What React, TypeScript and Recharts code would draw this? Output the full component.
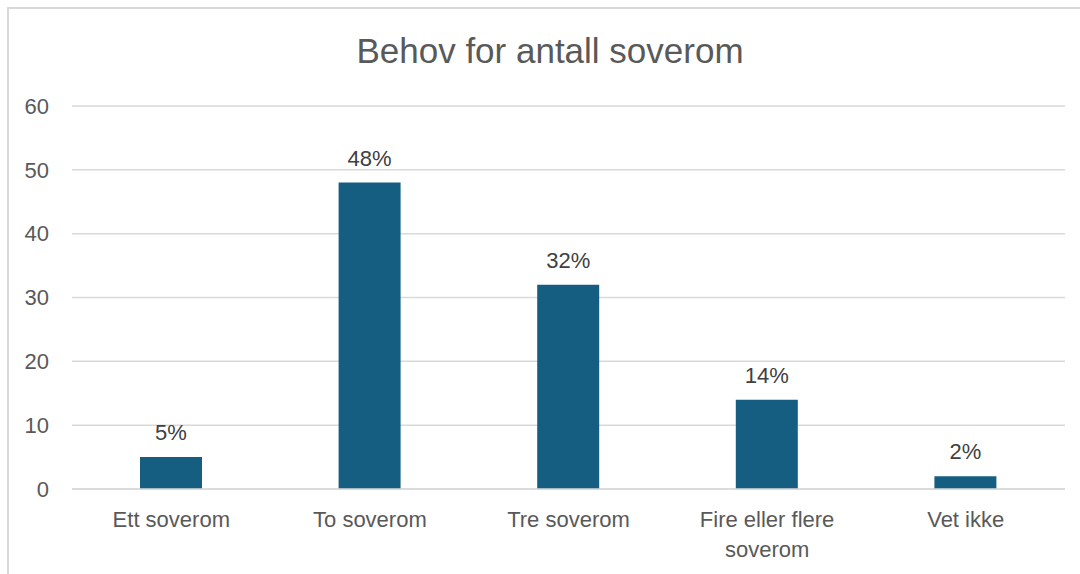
import { BarChart, Bar, XAxis, YAxis, CartesianGrid, LabelList } from "recharts";

const categories = ["Ett soverom", "To soverom", "Tre soverom", "Fire eller flere soverom", "Vet ikke"];
const shares = [5, 48, 32, 14, 2];
const yTicks = [0, 10, 20, 30, 40, 50, 60];

const FONT = '"Liberation Sans", Arial, sans-serif';

const rows = categories.map((name, i) => ({ name, value: shares[i] }));

// enkel ordbryting på antall tegn
function wrapWords(label: string, maxChars = 16) {
  const lines: string[] = [];
  let line = "";
  for (const word of label.split(" ")) {
    const next = line ? `${line} ${word}` : word;
    if (next.length > maxChars && line) {
      lines.push(line);
      line = word;
    } else {
      line = next;
    }
  }
  if (line) lines.push(line);
  return lines;
}

const renderCategoryTick = ({ x, y, payload }: any) => (
  <text
    key={payload.value}
    x={x}
    y={y + 38}
    textAnchor="middle"
    fontSize={22}
    fontFamily={FONT}
    fill="#595959"
  >
    {wrapWords(payload.value).map((ln, i) => (
      <tspan key={i} x={x} dy={i === 0 ? 0 : 30}>
        {ln}
      </tspan>
    ))}
  </text>
);

export default function App() {
  return (
    <div
      style={{
        position: "absolute",
        left: 0,
        top: 0,
        width: 1080,
        height: 574,
        overflow: "hidden",
        background: "#fff",
        fontFamily: FONT,
      }}
    >
      <div
        style={{
          position: "absolute",
          left: 7,
          top: 7,
          width: 1100,
          height: 600,
          border: "2px solid #d9d9d9",
          boxSizing: "border-box",
        }}
      />
      <div
        style={{
          position: "absolute",
          left: 20,
          top: 33,
          width: 1060,
          textAlign: "center",
          fontSize: 35,
          lineHeight: "35px",
          color: "#595959",
        }}
      >
        Behov for antall soverom
      </div>
      <div style={{ position: "absolute", left: 0, top: 0 }}>
        <BarChart
          width={1080}
          height={574}
          data={rows}
          margin={{ top: 106, right: 15, bottom: 0, left: 0 }}
        >
          <CartesianGrid vertical={false} stroke="#d9d9d9" strokeWidth={1.5} />
          <XAxis
            dataKey="name"
            height={85}
            interval={0}
            tickLine={false}
            tickSize={0}
            tickMargin={0}
            axisLine={{ stroke: "#d9d9d9", strokeWidth: 1.5 }}
            tick={renderCategoryTick}
          />
          <YAxis
            width={72}
            domain={[0, 60]}
            ticks={yTicks}
            axisLine={false}
            tickLine={false}
            tickSize={0}
            tickMargin={23}
            tick={{ fontSize: 22, fill: "#595959", fontFamily: FONT }}
          />
          <Bar dataKey="value" fill="#165e81" barSize={62} isAnimationActive={false}>
            <LabelList
              dataKey="value"
              position="top"
              offset={17}
              formatter={(v: any) => `${v}%`}
              style={{ fontSize: 22, fill: "#404040", fontFamily: FONT }}
            />
          </Bar>
        </BarChart>
      </div>
    </div>
  );
}
